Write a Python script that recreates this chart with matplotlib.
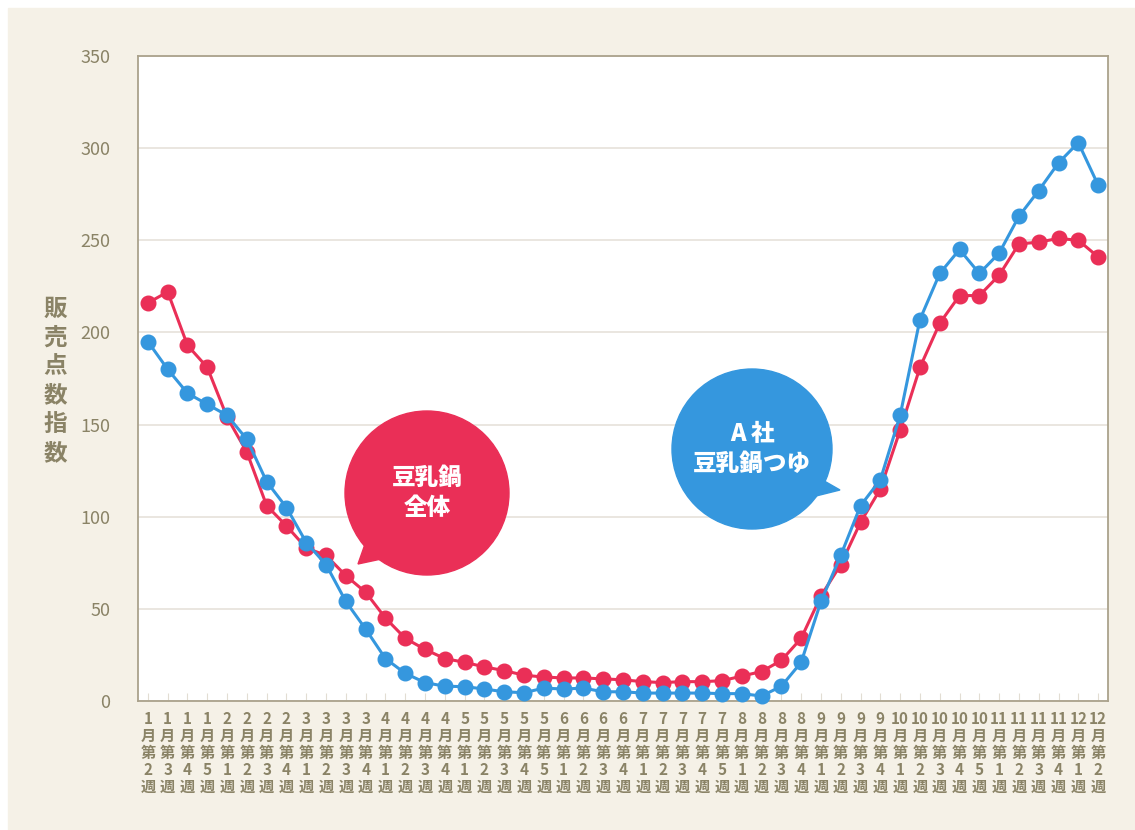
import matplotlib.pyplot as plt
from matplotlib.patches import Circle, Polygon, Rectangle

plt.rcParams['font.family'] = ['Noto Sans CJK JP', 'DejaVu Sans']

# week labels: (month, week)
months = [1]*4 + [2]*4 + [3]*4 + [4]*4 + [5]*5 + [6]*4 + [7]*5 + [8]*4 + [9]*4 + [10]*5 + [11]*4 + [12]*2
weeks = [2, 3, 4, 5, 1, 2, 3, 4, 1, 2, 3, 4, 1, 2, 3, 4, 1, 2, 3, 4, 5, 1, 2, 3, 4,
         1, 2, 3, 4, 5, 1, 2, 3, 4, 1, 2, 3, 4, 1, 2, 3, 4, 5, 1, 2, 3, 4, 1, 2]
labels = ["%d\n月\n第\n%d\n週" % (m, w) for m, w in zip(months, weeks)]

# 豆乳鍋 全体
total = [216, 222, 193, 181, 154, 135, 106, 95, 83, 79, 68, 59, 45, 34, 28, 23,
         21, 18.5, 16.5, 14, 13, 12.5, 12.5, 12, 11.5, 10.5, 10, 10.5, 10.5, 11, 13.5, 16,
         22, 34, 57, 74, 97, 115, 147, 181, 205, 220, 220, 231, 248, 249, 251, 250, 241]
# A社 豆乳鍋つゆ
brand_a = [195, 180, 167, 161, 155, 142, 119, 105, 86, 74, 54, 39, 23, 15, 10, 8,
           7.8, 6.5, 5, 4.5, 7, 6.5, 7, 5, 5, 4.3, 4.3, 4.3, 4.3, 4, 4, 2.7,
           8, 21, 54, 79, 106, 120, 155, 207, 232, 245, 232, 243, 263, 277, 292, 303, 280]

red = '#ea2f57'
blue = '#3597de'
txt = '#8a8366'

W, H = 1135, 830
fig = plt.figure(figsize=(W / 100, H / 100), dpi=100, facecolor='white')

# cream background (leaves thin white strip at top and left)
bg = fig.add_axes([0, 0, 1, 1])
bg.set_xlim(0, W)
bg.set_ylim(H, 0)
bg.axis('off')
bg.add_patch(Rectangle((8, 8), W, H, color='#f5f1e7', zorder=0))

ax = fig.add_axes([138 / W, 1 - 701 / H, (1108 - 138) / W, (701 - 56) / H])
ax.set_facecolor('white')
x = list(range(len(labels)))
ax.plot(x, total, color=red, lw=2.2, marker='o', ms=10.5, zorder=3, clip_on=False)
ax.plot(x, brand_a, color=blue, lw=2.2, marker='o', ms=10.5, zorder=4, clip_on=False)

ax.set_xlim(-0.5, len(labels) - 0.5)
ax.set_ylim(0, 350)
ax.set_yticks(range(0, 351, 50))
ax.grid(axis='y', color='#e6e2da', lw=1.2)
ax.set_axisbelow(True)
ax.set_xticks(x)
ax.set_xticklabels(labels, fontsize=11, color=txt, fontweight='bold', linespacing=1.08)
ax.tick_params(axis='x', direction='in', length=6, color='#e2ddd3', pad=7)
ax.tick_params(axis='y', length=0, pad=20, labelsize=13, labelcolor=txt)
for s in ax.spines.values():
    s.set_color('#aaa28c')
    s.set_linewidth(1.3)

fig.text(55 / W, 1 - 381 / H, "販\n売\n点\n数\n指\n数", fontsize=17, fontweight='bold',
         color=txt, ha='center', va='center', linespacing=1.25)

# speech bubbles in pixel coordinates
ov = fig.add_axes([0, 0, 1, 1])
ov.set_xlim(0, W)
ov.set_ylim(H, 0)
ov.axis('off')
ov.add_patch(Circle((427, 493), 82, color=red, zorder=5))
ov.add_patch(Polygon([(370, 530), (358, 564), (400, 555)], color=red, zorder=5))
ov.text(427, 493, "豆乳鍋\n全体", color='white', fontsize=17, fontweight='heavy',
        ha='center', va='center', linespacing=1.3, zorder=6)
ov.add_patch(Circle((752, 449), 80, color=blue, zorder=5))
ov.add_patch(Polygon([(805, 470), (840, 490), (800, 500)], color=blue, zorder=5))
ov.text(752, 449, "A 社\n豆乳鍋つゆ", color='white', fontsize=17, fontweight='heavy',
        ha='center', va='center', linespacing=1.3, zorder=6)

fig.savefig('out.png', dpi=100, facecolor=fig.get_facecolor())
